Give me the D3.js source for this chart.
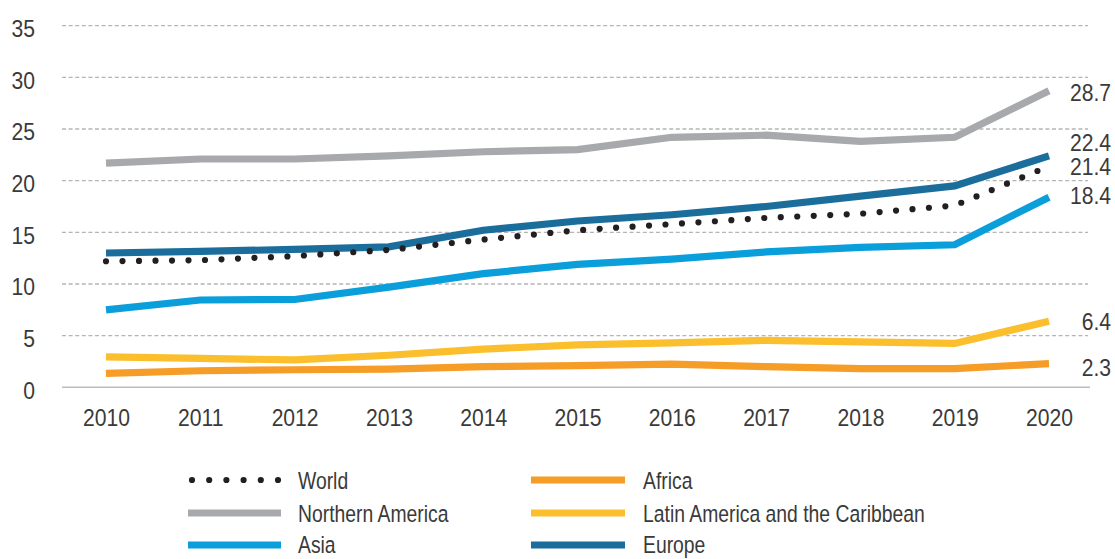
<!DOCTYPE html>
<html>
<head>
<meta charset="utf-8">
<script src="https://cdn.jsdelivr.net/npm/d3@7"></script>
<style>
  html, body { margin: 0; padding: 0; background: #fff; }
  svg { display: block; font-family: "Liberation Sans", Arial, sans-serif; }
</style>
</head>
<body>
<svg id="chart" width="1115" height="559"></svg>
<script>
// ---- Data ----
const years = ["2010","2011","2012","2013","2014","2015","2016","2017","2018","2019","2020"];
const yTicks = [0, 5, 10, 15, 20, 25, 30, 35];

const world           = [12.2, 12.3, 12.7, 13.3, 14.3, 15.2, 15.8, 16.4, 16.8, 17.6, 21.4];
const northernAmerica = [21.7, 22.1, 22.1, 22.4, 22.8, 23.0, 24.2, 24.4, 23.8, 24.2, 28.7];
const asia            = [7.5, 8.45, 8.5, 9.7, 11.0, 11.9, 12.4, 13.1, 13.55, 13.8, 18.4];
const africa          = [1.35, 1.6, 1.7, 1.75, 2.0, 2.1, 2.25, 2.0, 1.8, 1.8, 2.3];
const latinAmerica    = [2.95, 2.8, 2.65, 3.1, 3.7, 4.1, 4.3, 4.55, 4.4, 4.25, 6.4];
const europe          = [13.0, 13.15, 13.35, 13.6, 15.2, 16.1, 16.7, 17.5, 18.5, 19.5, 22.4];

const seriesNames  = ["World", "Northern America", "Asia", "Africa", "Latin America and the Caribbean", "Europe"];
const seriesValues = [world, northernAmerica, asia, africa, latinAmerica, europe];
const seriesColors = ["#231f20", "#a7a9ac", "#0a9fdb", "#f69d27", "#fbbf2d", "#1b6d9b"];

// end-of-line value labels (2020)
const endLabels = ["28.7", "22.4", "21.4", "18.4", "6.4", "2.3"];
const endLabelSeries = [1, 5, 0, 2, 4, 3];

// ---- Layout ----
const svg = d3.select("#chart");
const x = d3.scalePoint().domain(years).range([106, 1049]);
const y = d3.scaleLinear().domain([0, 35]).range([387.3, 25.7]);
const gridLeft = 62, gridRight = 1088;
const textColor = "#3a3a3a";
const numScale = 0.88, legScale = 0.79;

// gridlines (dashed) for non-zero ticks
svg.append("g").selectAll("line")
  .data(yTicks.filter(d => d !== 0))
  .join("line")
  .attr("x1", gridLeft).attr("x2", gridRight)
  .attr("y1", d => y(d)).attr("y2", d => y(d))
  .attr("stroke", "#b5b5b5")
  .attr("stroke-width", 1.3)
  .attr("stroke-dasharray", "4,2.6");

// baseline
svg.append("line")
  .attr("x1", gridLeft).attr("x2", 1090)
  .attr("y1", y(0)).attr("y2", y(0))
  .attr("stroke", "#bcbcbc").attr("stroke-width", 1.6);

// y axis labels
const yAxis = svg.append("g").attr("transform", "translate(35,0)")
  .call(d3.axisLeft(y).tickValues(yTicks).tickSize(0).tickPadding(0).tickFormat(d3.format("d")));
yAxis.select(".domain").remove();
yAxis.selectAll("text")
  .attr("x", 0)
  .attr("dy", "0.45em")
  .attr("font-size", 24)
  .attr("font-family", "'Liberation Sans', Arial, sans-serif")
  .attr("fill", textColor)
  .attr("transform", `scale(${numScale},1)`);

// x axis labels
const xAxis = svg.append("g").attr("transform", `translate(0,${y(0)})`)
  .call(d3.axisBottom(x).tickSize(0).tickPadding(22));
xAxis.select(".domain").remove();
xAxis.selectAll("text")
  .attr("font-size", 24)
  .attr("font-family", "'Liberation Sans', Arial, sans-serif")
  .attr("fill", textColor)
  .attr("transform", `scale(${numScale},1)`);

// lines
const line = d3.line().x((d, i) => x(years[i])).y(d => y(d));
const drawOrder = [3, 4, 2, 1, 5, 0];
drawOrder.forEach(si => {
  const p = svg.append("path")
    .datum(seriesValues[si])
    .attr("d", line)
    .attr("fill", "none")
    .attr("stroke", seriesColors[si]);
  if (si === 0) {
    p.attr("stroke-width", 6.2)
     .attr("stroke-linecap", "round")
     .attr("stroke-dasharray", "0,16.5");
  } else {
    p.attr("stroke-width", 7.2)
     .attr("stroke-linecap", "butt")
     .attr("stroke-linejoin", "miter");
  }
});

// end labels
const labelOffsets = [2, -14, 0, -2, 0, 3.5];
const lastIdx = years.length - 1;
svg.append("g").selectAll("text")
  .data(endLabels)
  .join("text")
  .attr("transform", (d, i) => `translate(1111,${y(seriesValues[endLabelSeries[i]][lastIdx]) + labelOffsets[i]}) scale(${numScale},1)`)
  .attr("text-anchor", "end")
  .attr("dy", "0.36em")
  .attr("font-size", 24)
  .attr("fill", textColor)
  .text(d => d);

// legend
const legendCols = [{sx: 188, ex: 281, tx: 298}, {sx: 531, ex: 625, tx: 643}];
const legendRows = [480, 513, 545];
seriesNames.forEach((name, i) => {
  const col = legendCols[Math.floor(i / 3)];
  const ry = legendRows[i % 3];
  const g = svg.append("g");
  if (i === 0) {
    g.append("line")
      .attr("x1", 192).attr("x2", 278.5)
      .attr("y1", ry).attr("y2", ry)
      .attr("stroke", seriesColors[i])
      .attr("stroke-width", 6.2)
      .attr("stroke-linecap", "round")
      .attr("stroke-dasharray", "0,17.2");
  } else {
    g.append("line")
      .attr("x1", col.sx).attr("x2", col.ex)
      .attr("y1", ry).attr("y2", ry)
      .attr("stroke", seriesColors[i])
      .attr("stroke-width", 7.2);
  }
  g.append("text")
    .attr("transform", `translate(${col.tx},${ry - (i % 3 === 2 ? 1 : 0)}) scale(${legScale},1)`)
    .attr("dy", "0.36em")
    .attr("font-size", 24.5)
    .attr("fill", textColor)
    .text(name);
});
</script>
</body>
</html>
